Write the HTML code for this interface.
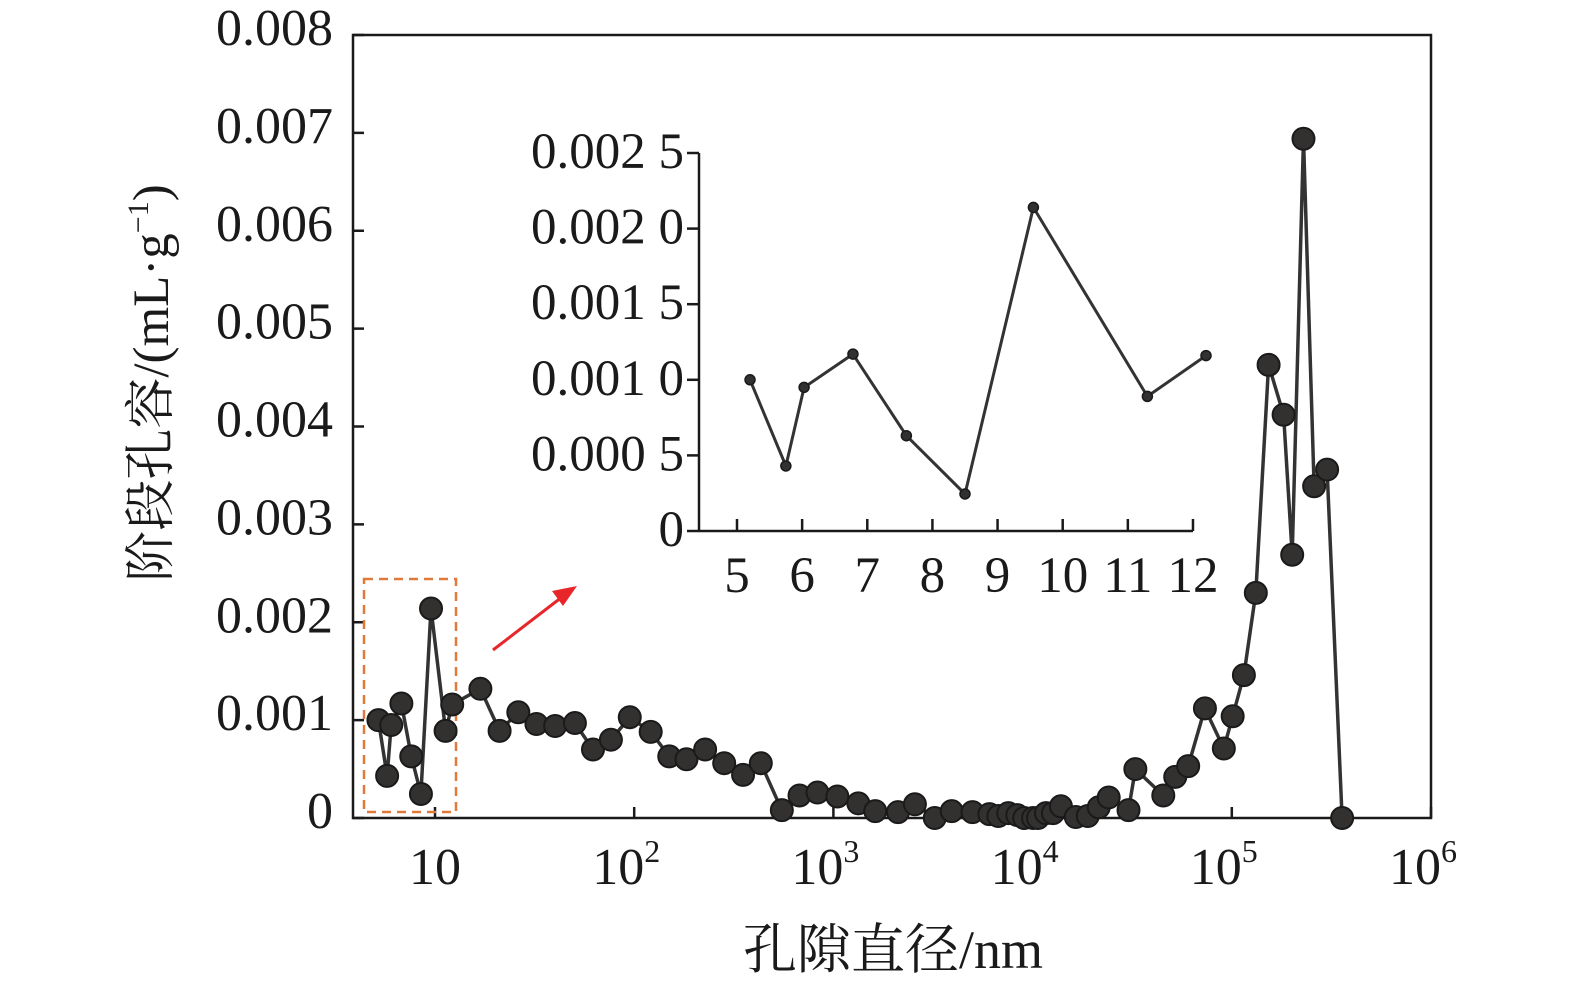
<!DOCTYPE html>
<html><head><meta charset="utf-8"><style>
html,body{margin:0;padding:0;background:#fff;}
svg{display:block;}
text{font-family:"Liberation Serif","Noto Serif CJK SC",serif;fill:#1a1a1a;}
</style></head><body>
<svg id="chart" width="1575" height="990" viewBox="0 0 1575 990" xmlns="http://www.w3.org/2000/svg">
<g id="main"></g>
<g id="inset"></g>
</svg>
<script>
// main chart data: pore diameter (nm) and stage pore volume (mL/g)
const mainDiam = [5.2,5.75,6.03,6.78,7.6,8.5,9.55,11.3,12.2,16.9,21.1,26.2,32.3,40.1,50.4,62.1,76.4,95,121,150,183,227,283,352,432,551,676,832,1047,1334,1622,2110,2565,3228,3926,4990,6070,6730,7550,8380,9080,10050,10640,11670,12650,13870,16480,18920,21480,24100,30300,32800,45300,52000,60400,73300,91200,101000,115000,132000,153000,182000,201000,229000,259000,301000,358000];
const mainVol = [0.00100,0.00043,0.00095,0.00117,0.00063,0.000245,0.00214,0.00089,0.00116,0.00132,0.00089,0.00108,0.00096,0.00094,0.00097,0.00070,0.00080,0.00103,0.00088,0.00063,0.00060,0.00070,0.00056,0.00044,0.00056,0.00008,0.00023,0.00026,0.00022,0.00015,0.00007,0.00006,0.00014,0.00000,0.00007,0.00006,0.00004,0.00002,0.00005,0.00003,0.00000,0.00000,0.00000,0.00005,0.00005,0.00012,0.00001,0.00002,0.00011,0.00021,0.00008,0.00050,0.00023,0.00042,0.00053,0.00112,0.00071,0.00104,0.00146,0.00230,0.00463,0.00412,0.00269,0.00694,0.00339,0.00356,0.00000];
const mainYTicks = [0,0.001,0.002,0.003,0.004,0.005,0.006,0.007,0.008];
const mainYLabels = ["0","0.001","0.002","0.003","0.004","0.005","0.006","0.007","0.008"];
const mainXExp = [1,2,3,4,5,6];
// inset data
const insetDiam = [5.2,5.75,6.03,6.78,7.6,8.5,9.55,11.3,12.2];
const insetVol = [0.00100,0.00043,0.00095,0.00117,0.00063,0.000245,0.00214,0.00089,0.00116];
const insetYTicks = [0,0.0005,0.0010,0.0015,0.0020,0.0025];
const insetYLabels = ["0","0.000 5","0.001 0","0.001 5","0.002 0","0.002 5"];
const insetXTicks = [5,6,7,8,9,10,11,12];

const NS="http://www.w3.org/2000/svg";
function mk(parent,tag,attrs,txt){const e=document.createElementNS(NS,tag);for(const k in attrs)e.setAttribute(k,attrs[k]);if(txt!==undefined)e.textContent=txt;parent.appendChild(e);return e;}

// main axes
const L=353,R=1431,T=35,B=818;
const mx=d=>435+199.2*(Math.log10(d)-1);
const my=v=>B-v/0.008*(B-T);
const gm=document.getElementById('main');
let fr=mk(gm,'rect',{x:L,y:T,width:R-L,height:B-T,fill:'none',stroke:'#1a1a1a','stroke-width':2.5});


mainYTicks.forEach((t,i)=>{
  const y=my(t);
  let tk=mk(gm,'line',{x1:L,x2:L+11,y1:y,y2:y,stroke:'#1a1a1a','stroke-width':2.5});
  
  
  let lb=mk(gm,'text',{x:333,y:y+10,'text-anchor':'end','font-size':52},mainYLabels[i]);
  
  
});
mainXExp.forEach(e=>{
  const x=mx(Math.pow(10,e));
  let tk=mk(gm,'line',{x1:x,x2:x,y1:B,y2:B-11,stroke:'#1a1a1a','stroke-width':2.5});
  
  
  let lb;
  if(e===1){lb=mk(gm,'text',{x:x,y:884,'text-anchor':'middle','font-size':52},'10');}
  else{lb=mk(gm,'text',{x:x-8,y:884,'text-anchor':'middle','font-size':52},'10');
    mk(lb,'tspan',{dy:-22,'font-size':32},String(e));}
  
  
});
let xt=mk(gm,'text',{x:893,y:968,'text-anchor':'middle','font-size':54},'孔隙直径/nm');


let yt=mk(gm,'text',{x:0,y:0,'text-anchor':'middle','font-size':51,transform:'translate(168,383) rotate(-90)'},'阶段孔容/(mL·g');
mk(yt,'tspan',{dy:-20,'font-size':30},'−1');
mk(yt,'tspan',{dy:20},')');



// highlight box and arrow
let hb=mk(gm,'rect',{x:364,y:579,width:92,height:233,fill:'none',stroke:'#e07a3a','stroke-width':2.5,'stroke-dasharray':'9,6'});


let ar=mk(gm,'line',{x1:493,y1:650,x2:562,y2:597,stroke:'#e8262a','stroke-width':3});


let ah=mk(gm,'polygon',{points:'577,586 552,591 563,606',fill:'#e8262a'});



// main series
let pts=mainDiam.map((d,i)=>mx(d).toFixed(1)+','+my(mainVol[i]).toFixed(1)).join(' ');
let pl=mk(gm,'polyline',{points:pts,fill:'none',stroke:'#333','stroke-width':3.5,'stroke-linejoin':'round'});


mainDiam.forEach((d,i)=>{
  let c=mk(gm,'circle',{cx:mx(d),cy:my(mainVol[i]),r:11,fill:'#333030',stroke:'#1a1a1a','stroke-width':2});
  
  
});

// inset
const gi=document.getElementById('inset');
const IL=699,IR=1193,IB=531,IT=153;
const ix=d=>737+(d-5)*65.14;
const iy=v=>IB-v/0.0025*(IB-IT);
let ya=mk(gi,'line',{x1:IL,x2:IL,y1:IT,y2:IB,stroke:'#1a1a1a','stroke-width':2.5});


let xa=mk(gi,'line',{x1:IL,x2:IR,y1:IB,y2:IB,stroke:'#1a1a1a','stroke-width':2.5});


insetYTicks.forEach((t,i)=>{
  const y=iy(t);
  let tk=mk(gi,'line',{x1:IL-12,x2:IL,y1:y,y2:y,stroke:'#1a1a1a','stroke-width':2.5});
  
  
  let lb=mk(gi,'text',{x:684,y:y+15,'text-anchor':'end','font-size':51},insetYLabels[i]);
  
  
});
insetXTicks.forEach(t=>{
  const x=ix(t);
  let tk=mk(gi,'line',{x1:x,x2:x,y1:IB,y2:IB-12,stroke:'#1a1a1a','stroke-width':2.5});
  
  
  let lb=mk(gi,'text',{x:x,y:592,'text-anchor':'middle','font-size':51},String(t));
  
  
});
let ipts=insetDiam.map((d,i)=>ix(d).toFixed(1)+','+iy(insetVol[i]).toFixed(1)).join(' ');
let ipl=mk(gi,'polyline',{points:ipts,fill:'none',stroke:'#333','stroke-width':3,'stroke-linejoin':'round'});


insetDiam.forEach((d,i)=>{
  let c=mk(gi,'circle',{cx:ix(d),cy:iy(insetVol[i]),r:5,fill:'#333030',stroke:'#1a1a1a','stroke-width':1.5});
  
  
});
</script>
</body></html>
